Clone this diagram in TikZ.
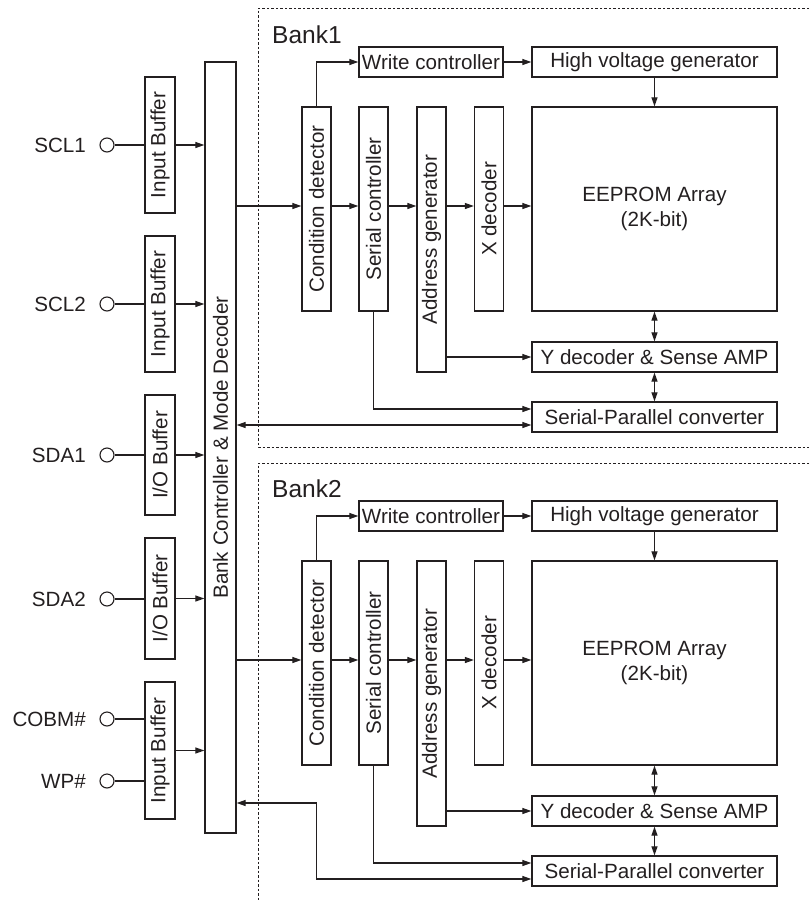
\documentclass[tikz,border=0pt]{standalone}
\usepackage{fontspec}
\setmainfont{Liberation Sans}
\usepackage{graphicx}
\usetikzlibrary{arrows.meta}
\definecolor{ink}{RGB}{35,31,32}
\tikzset{
  blk/.style={draw=ink, line width=1.3pt, inner sep=0pt, text=ink, font=\fontsize{20.6}{25}\selectfont, align=center},
  pin/.style={circle, draw=ink, line width=1.1pt, minimum size=14pt, inner sep=0pt},
  pinlbl/.style={anchor=east, text=ink, inner sep=0pt, font=\fontsize{20.6}{24}\selectfont},
  wire/.style={draw=ink, line width=1.2pt},
  arr/.style={wire, -{Triangle[length=9pt,width=6pt]}},
  darr/.style={wire, {Triangle[length=9pt,width=6pt]}-{Triangle[length=9pt,width=6pt]}},
  bankline/.style={draw=ink, line width=1pt, dash pattern=on 2.5pt off 2pt},
  banklbl/.style={anchor=base west, text=ink, inner sep=0pt, font=\fontsize{24.5}{28}\selectfont}
}
\begin{document}
\begin{tikzpicture}[x=1pt, y=-1pt]
\useasboundingbox (0,0) rectangle (809,900);

% Bank controller
\node[blk, minimum width=31pt, minimum height=771pt] (ctrl) at (220.5,447.5) {\rotatebox{90}{Bank Controller \& Mode Decoder}};

% buffers
\node[blk, minimum width=30pt, minimum height=136pt] (ib1) at (160,145) {\rotatebox{90}{Input Buffer}};
\node[blk, minimum width=30pt, minimum height=136pt] (ib2) at (160,304) {\rotatebox{90}{Input Buffer}};
\node[blk, minimum width=30pt, minimum height=120pt] (io1) at (160,455) {\rotatebox{90}{I/O Buffer}};
\node[blk, minimum width=30pt, minimum height=121pt] (io2) at (160,598.5) {\rotatebox{90}{I/O Buffer}};
\node[blk, minimum width=30pt, minimum height=137pt] (ib3) at (160,750.5) {\rotatebox{90}{Input Buffer}};

% pins
\node[pin] (p1) at (107,145) {};
\node[pin] (p2) at (107,304) {};
\node[pin] (p3) at (107,455) {};
\node[pin] (p4) at (107,599) {};
\node[pin] (p5) at (107,719) {};
\node[pin] (p6) at (107,781) {};
\node[pinlbl] (l1) at (86,145) {SCL1};
\node[pinlbl] (l2) at (86,304) {SCL2};
\node[pinlbl] (l3) at (86,455) {SDA1};
\node[pinlbl] (l4) at (86,599) {SDA2};
\node[pinlbl] (l5) at (86,719) {COBM\#};
\node[pinlbl] (l6) at (86,781) {WP\#};

\draw[wire] (p1.east) -- (ib1.west |- p1);
\draw[wire] (p2.east) -- (ib2.west |- p2);
\draw[wire] (p3.east) -- (io1.west |- p3);
\draw[wire] (p4.east) -- (io2.west |- p4);
\draw[wire] (p5.east) -- (ib3.west |- p5);
\draw[wire] (p6.east) -- (ib3.west |- p6);

\draw[arr] (ib1.east) -- (ctrl.west |- ib1.east);
\draw[arr] (ib2.east) -- (ctrl.west |- ib2.east);
\draw[arr] (io1.east) -- (ctrl.west |- io1.east);
\draw[arr] (io2.east) -- (ctrl.west |- io2.east);
\draw[arr] (ib3.east) -- (ctrl.west |- ib3.east);

% bank frames
\draw[bankline] (809,8) -- (258,8) -- (258,447) -- (809,447);
\draw[bankline] (809,463) -- (258,463) -- (258,900);

\foreach \k/\dy in {1/0, 2/454} {
  \node[banklbl] (bl\k) at (272,{43+\dy}) {Bank\k};
  \node[blk, minimum width=144pt, minimum height=30pt] (wc\k) at (431,{62+\dy}) {Write controller};
  \node[blk, minimum width=245pt, minimum height=30pt] (hv\k) at (654.5,{62+\dy}) {High voltage generator};
  \node[blk, minimum width=29pt, minimum height=204pt] (cd\k) at (316.5,{209+\dy}) {\rotatebox{90}{Condition detector}};
  \node[blk, minimum width=29pt, minimum height=204pt] (sc\k) at (373.5,{209+\dy}) {\rotatebox{90}{Serial controller}};
  \node[blk, minimum width=29pt, minimum height=265pt] (ag\k) at (431.5,{239.5+\dy}) {\rotatebox{90}{Address generator}};
  \node[blk, minimum width=29pt, minimum height=204pt] (xd\k) at (489,{209+\dy}) {\rotatebox{90}{X decoder}};
  \node[blk, minimum width=245pt, minimum height=204pt] (ar\k) at (654.5,{209+\dy}) {EEPROM Array\\(2K-bit)};
  \node[blk, minimum width=245pt, minimum height=30pt] (yd\k) at (654.5,{357+\dy}) {Y decoder \& Sense AMP};
  \node[blk, minimum width=245pt, minimum height=30pt] (sp\k) at (654.5,{417+\dy}) {Serial-Parallel converter};

  \coordinate (in\k) at ([yshift=3pt]cd\k.west);
  \coordinate (spa\k) at ([yshift=8pt]sp\k.west);
  \coordinate (spb\k) at ([yshift=-8pt]sp\k.west);

  \draw[arr] (ctrl.east |- in\k) -- (in\k);
  \draw[arr] (cd\k.east |- in\k) -- (sc\k.west |- in\k);
  \draw[arr] (sc\k.east |- in\k) -- (ag\k.west |- in\k);
  \draw[arr] (ag\k.east |- in\k) -- (xd\k.west |- in\k);
  \draw[arr] (xd\k.east |- in\k) -- (ar\k.west |- in\k);
  \draw[arr] (cd\k.north) |- (wc\k.west);
  \draw[arr] (wc\k.east) -- (hv\k.west);
  \draw[arr] (hv\k.south) -- (ar\k.north);
  \draw[darr] (ar\k.south) -- (yd\k.north);
  \draw[darr] (yd\k.south) -- (sp\k.north);
  \draw[arr] (ag\k.east |- yd\k.west) -- (yd\k.west);
  \draw[arr] (sc\k.south) |- (spa\k);
}

% controller <-> serial-parallel converters
\draw[darr] (ctrl.east |- spb1) -- (spb1);
\coordinate (k2) at (236,803);
\draw[darr] (k2 -| ctrl.east) -| (spb2 -| cd2.south) -- (spb2);

\end{tikzpicture}
\end{document}
